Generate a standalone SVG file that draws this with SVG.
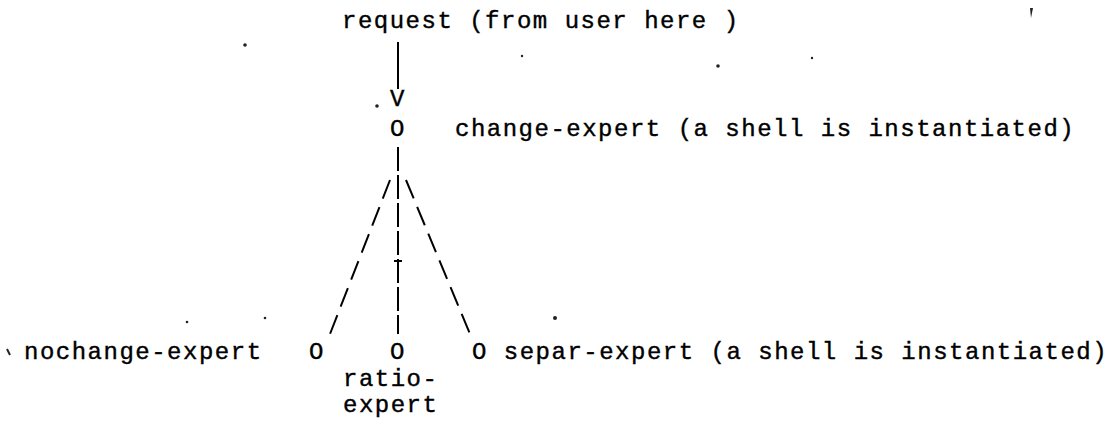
<svg xmlns="http://www.w3.org/2000/svg" width="1119" height="426" viewBox="0 0 1119 426">
<style>
  text { font-family: "Liberation Mono", "DejaVu Sans Mono", monospace; font-size: 24px; letter-spacing: 1.5px; fill: #000; stroke: #000; stroke-width: 0.4px; }
  .conn { stroke: #000; stroke-width: 2; fill: none; }
  .noise { fill: #222; }
</style>
<rect width="1119" height="426" fill="#fff"/>
<g id="request">
  <text x="342" y="28">request (from user here )</text>
</g>
<g id="change-expert">
  <text x="390" y="136">O</text>
  <text x="455" y="136">change-expert (a shell is instantiated)</text>
</g>
<g id="nochange-expert">
  <text x="24" y="359">nochange-expert</text>
  <text x="309" y="359">O</text>
</g>
<g id="ratio-expert">
  <text x="390" y="359">O</text>
  <text x="343" y="386">ratio-</text>
  <text x="343" y="412">expert</text>
</g>
<g id="separ-expert">
  <text x="472" y="359">O separ-expert (a shell is instantiated)</text>
</g>
<g id="connectors">
  <line class="conn" x1="398" y1="42" x2="398" y2="89"/>
  <text x="390" y="106">V</text>
  <line class="conn" x1="398" y1="147" x2="398" y2="334" stroke-dasharray="24 4"/>
  <line class="conn" x1="394" y1="261" x2="402" y2="261" stroke-width="1.2"/>
  <line class="conn" x1="390" y1="180" x2="330" y2="334" stroke-dasharray="20 9"/>
  <line class="conn" x1="406" y1="180" x2="470" y2="334" stroke-dasharray="20 9"/>
</g>
<g id="noise">
  <circle class="noise" cx="245" cy="45" r="1.8"/>
  <circle class="noise" cx="522" cy="56" r="1.2"/>
  <circle class="noise" cx="718" cy="66" r="1.8"/>
  <circle class="noise" cx="812" cy="58" r="1.2"/>
  <circle class="noise" cx="377" cy="106" r="1.8"/>
  <circle class="noise" cx="555" cy="318" r="2"/>
  <circle class="noise" cx="187" cy="322" r="1.3"/>
  <circle class="noise" cx="265" cy="318" r="1.3"/>
  <path class="noise" d="M1030 8 L1033 8 L1031 18 Z"/>
  <path d="M7 349 L10 355" stroke="#222" stroke-width="2"/>
</g>
</svg>
